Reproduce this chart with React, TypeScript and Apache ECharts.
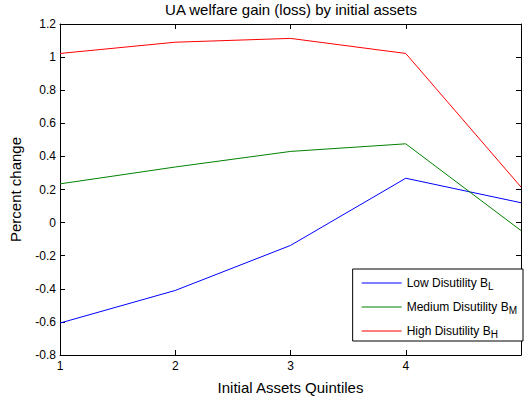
import React, { useEffect, useRef } from "react";
import * as echarts from "echarts";

const quintiles = [1, 2, 3, 4, 5];
const lowDisutility = [-0.607, -0.41, -0.138, 0.268, 0.12];
const mediumDisutility = [0.234, 0.336, 0.43, 0.476, -0.048];
const highDisutility = [1.022, 1.09, 1.113, 1.022, 0.215];
const seriesNames = ["Low Disutility B", "Medium Disutility B", "High Disutility B"];
const seriesSubs = ["L", "M", "H"];
const seriesColors = ["#0000ff", "#008000", "#ff0000"];

const FONT = "'Liberation Sans', Arial, sans-serif";

export default function App() {
  const ref = useRef<HTMLDivElement>(null);
  useEffect(() => {
    if (!ref.current) return;
    const chart = echarts.init(ref.current, undefined, { renderer: "svg" });
    const datasets = [lowDisutility, mediumDisutility, highDisutility];
    const tickStyle = { inside: true, length: 5, lineStyle: { color: "#000" } };
    const lineAxis = { show: true, onZero: false, lineStyle: { color: "#000", width: 1 } };
    chart.setOption({
      animation: false,
      backgroundColor: "#fff",
      textStyle: { fontFamily: FONT },
      title: {
        text: "UA welfare gain (loss) by initial assets",
        left: 291,
        textAlign: "center",
        top: 2,
        padding: 0,
        textStyle: { fontFamily: FONT, fontSize: 15, fontWeight: "normal", color: "#000" },
      },
      grid: { left: 58, top: 24, right: 1, bottom: 43 },
      xAxis: [
        {
          type: "value",
          min: 1,
          max: 5,
          interval: 1,
          name: "Initial Assets Quintiles",
          nameLocation: "middle",
          nameGap: 25,
          nameTextStyle: { fontFamily: FONT, fontSize: 15, color: "#000" },
          axisLine: lineAxis,
          axisTick: tickStyle,
          splitLine: { show: false },
          axisLabel: {
            fontFamily: FONT,
            fontSize: 12,
            color: "#000",
            margin: 5,
            formatter: (v: number) => (v >= 5 ? "" : String(v)),
          },
        },
        {
          type: "value",
          position: "top",
          min: 1,
          max: 5,
          interval: 1,
          axisLine: lineAxis,
          axisTick: tickStyle,
          axisLabel: { show: false },
          splitLine: { show: false },
        },
      ],
      yAxis: [
        {
          type: "value",
          min: -0.8,
          max: 1.2,
          interval: 0.2,
          name: "Percent change",
          nameLocation: "middle",
          nameGap: 37,
          nameTextStyle: { fontFamily: FONT, fontSize: 15, color: "#000" },
          axisLine: lineAxis,
          axisTick: tickStyle,
          splitLine: { show: false },
          axisLabel: {
            fontFamily: FONT,
            fontSize: 12,
            color: "#000",
            margin: 4,
            formatter: (v: number) => {
              const r = Math.round(v * 10) / 10;
              return r === 0 ? "0" : String(r);
            },
          },
        },
        {
          type: "value",
          position: "right",
          min: -0.8,
          max: 1.2,
          interval: 0.2,
          axisLine: lineAxis,
          axisTick: tickStyle,
          axisLabel: { show: false },
          splitLine: { show: false },
        },
      ],
      legend: {
        orient: "vertical",
        right: 1,
        top: 269,
        icon: "rect",
        itemWidth: 40,
        itemHeight: 1,
        itemGap: 8,
        padding: [6, 6, 2, 9],
        backgroundColor: "#fff",
        borderColor: "#000",
        borderWidth: 1,
        borderRadius: 0,
        data: seriesNames.map((n) => ({ name: n })),
        formatter: (name: string) => {
          const i = seriesNames.indexOf(name);
          return `{a|${name}}{s|${seriesSubs[i]}}`;
        },
        textStyle: {
          fontFamily: FONT,
          fontSize: 12,
          color: "#000",
          rich: {
            a: { fontFamily: FONT, fontSize: 12, color: "#000", lineHeight: 13 },
            s: { fontFamily: FONT, fontSize: 10, color: "#000", padding: [6, 0, 0, 0], lineHeight: 13 },
          },
        },
      },
      series: datasets.map((d, i) => ({
        name: seriesNames[i],
        type: "line",
        data: quintiles.map((q, j) => [q, d[j]]),
        symbol: "none",
        showSymbol: false,
        lineStyle: { color: seriesColors[i], width: 1 },
        itemStyle: { color: seriesColors[i] },
        clip: true,
      })),
    });
    return () => chart.dispose();
  }, []);
  return (
    <div
      ref={ref}
      style={{ position: "fixed", left: 0, top: 0, width: 524, height: 400 }}
    />
  );
}
